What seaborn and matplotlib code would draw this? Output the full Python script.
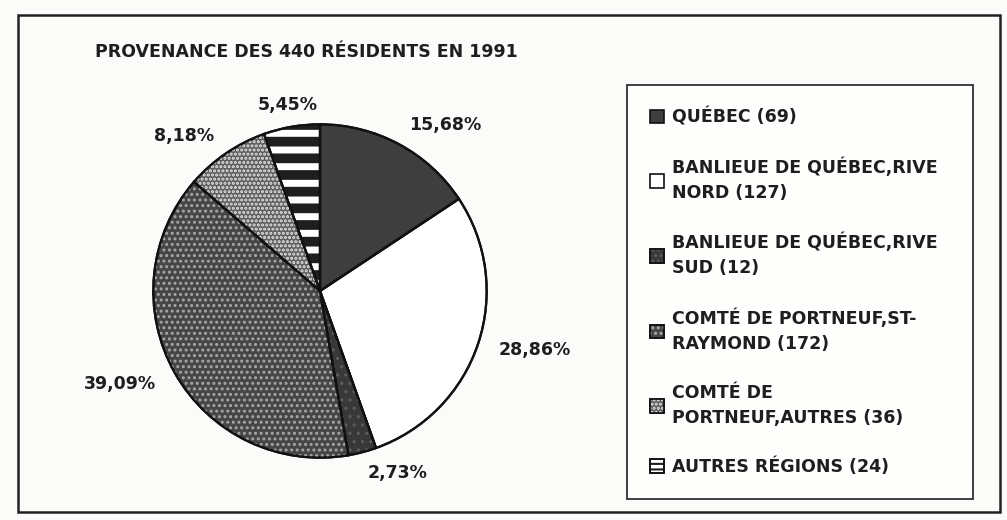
import math
import matplotlib
matplotlib.use("Agg")
import matplotlib.pyplot as plt
from matplotlib.patches import Rectangle, Patch, Wedge
from matplotlib.legend_handler import HandlerTuple
import seaborn as sns

categories = ["QUÉBEC (69)", "BANLIEUE DE QUÉBEC,RIVE\nNORD (127)", "BANLIEUE DE QUÉBEC,RIVE\nSUD (12)",
              "COMTÉ DE PORTNEUF,ST-\nRAYMOND (172)", "COMTÉ DE\nPORTNEUF,AUTRES (36)", "AUTRES RÉGIONS (24)"]
counts = [69, 127, 12, 172, 36, 24]
title = "PROVENANCE DES 440 RÉSIDENTS EN 1991"

fills = ["#3e3e3e", "#ffffff", "#383838", "#464646", "#5e5e5e", "#ffffff"]
hatches = [None, None, "..", "...", "....", "-"]
hatch_cols = [None, None, "#5a5a5a", "#a8a8a8", "#e6e6e6", "#1e1e1e"]
hatch_lws = [None, None, 1.2, 1.4, 1.5, 7.0]
legend_hatches = [None, None, "...", "...", "....", "---"]
legend_hlws = [None, None, 1.0, 1.0, 1.0, 2.5]

sns.set_theme(style="white")
plt.rcParams["font.family"] = ["DejaVu Sans"]
plt.rcParams["font.weight"] = "bold"
plt.rcParams["hatch.linewidth"] = 1.5

FS = 12.5
fig = plt.figure(figsize=(10.07, 5.2), dpi=100, facecolor="#fbfbfa")
R = 170
ax = fig.add_axes([(320 - R) / 1007, (520 - 291 - R) / 520, 2 * R / 1007, 2 * R / 520])
ax.set_facecolor("none")

total = sum(counts)
pct_labels = [f"{100 * c / total:.2f}%".replace(".", ",") for c in counts]

wedges, texts = ax.pie(counts, startangle=90, counterclock=False, colors=fills,
                       labels=pct_labels, labeldistance=1.13,
                       wedgeprops=dict(edgecolor="#111111", linewidth=1.6),
                       textprops=dict(fontsize=FS, fontweight="bold", color="#1e1e1e"))
for w, t in zip(wedges, texts):
    mid = math.radians((w.theta1 + w.theta2) / 2)
    if abs(math.cos(mid)) < 0.2:
        t.set_ha("center")

handles = []
for w, f, h, hc, hlw, lh, llw in zip(wedges, fills, hatches, hatch_cols, hatch_lws,
                                      legend_hatches, legend_hlws):
    base = Patch(facecolor=f, edgecolor="#111111", linewidth=1.2)
    if h:
        ww = Wedge(w.center, w.r, w.theta1, w.theta2, facecolor="none", edgecolor=hc,
                   hatch=h, linewidth=0)
        hp = Patch(facecolor="none", edgecolor=hc, hatch=lh, linewidth=0)
        if hasattr(ww, "set_hatch_linewidth"):
            ww.set_hatch_linewidth(hlw)
            hp.set_hatch_linewidth(llw)
        ax.add_patch(ww)
        handles.append((base, hp, Patch(facecolor="none", edgecolor="#111111", linewidth=1.2)))
    else:
        handles.append((base,))
for w in wedges:
    ax.add_patch(Wedge(w.center, w.r, w.theta1, w.theta2, facecolor="none",
                       edgecolor="#111111", linewidth=1.6))
ax.set_xlim(-1.02, 1.02)
ax.set_ylim(-1.02, 1.02)
ax.set_aspect("equal")
ax.axis("off")

fig.text(95 / 1007, 1 - 52 / 520, title, fontsize=FS, fontweight="bold", color="#1e1e1e",
         va="center", ha="left")

leg = fig.legend(handles, categories, loc="upper left",
                 bbox_to_anchor=(627 / 1007, 1 - 85 / 520 - 0.01, 346 / 1007, 0.01),
                 bbox_transform=fig.transFigure, mode="expand",
                 handler_map={tuple: HandlerTuple(ndivide=1, pad=0)},
                 handlelength=0.85, handleheight=0.85, handletextpad=0.45,
                 labelspacing=1.78, borderpad=1.3, borderaxespad=0, fontsize=FS, frameon=True,
                 fancybox=False, edgecolor="#111111", facecolor="white", alignment="left")
leg.get_frame().set_linewidth(1.4)
for t in leg.get_texts():
    t.set_color("#1e1e1e")
    t.set_fontweight("bold")
    t.set_linespacing(1.5)

fig.patches.append(Rectangle((18 / 1007, 1 - 512 / 520), (1000 - 18) / 1007, (512 - 15) / 520,
                             transform=fig.transFigure, fill=False, edgecolor="#222222",
                             linewidth=1.8))
fig.savefig("out.png", dpi=100, facecolor=fig.get_facecolor())
